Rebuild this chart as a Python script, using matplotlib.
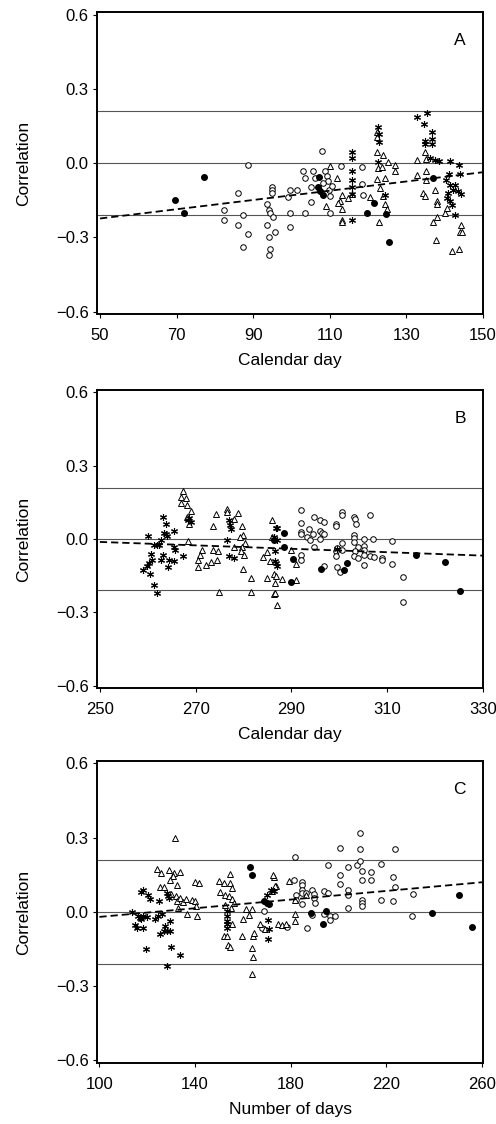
import matplotlib.pyplot as plt

plt.rcParams["font.family"] = ["Liberation Sans", "DejaVu Sans"]

# ---- Panel A: calendar day (spring) ----
a_open_x = [88.7, 86.0, 82.3, 82.3, 87.3, 86.0, 88.7, 87.3, 93.7, 94.2, 94.4, 95.1, 93.7, 95.6, 94.2,
            94.4, 94.2, 95.0, 95.0, 95.0, 99.6, 107.9, 102.9, 103.5, 99.6, 101.3, 99.2, 99.6, 103.5,
            105.2, 105.7, 106.1, 105.2, 108.7, 109.2, 109.6, 109.9, 110.0, 112.8, 118.3, 118.3, 118.6,
            110.0, 110.5, 108.3]
a_open_y = [-0.008, -0.122, -0.189, -0.229, -0.211, -0.249, -0.285, -0.338, -0.166, -0.189, -0.200,
            -0.220, -0.249, -0.279, -0.300, -0.347, -0.372, -0.097, -0.107, -0.122, -0.257, 0.049,
            -0.032, -0.062, -0.110, -0.107, -0.136, -0.203, -0.200, -0.158, -0.034, -0.061, -0.098,
            -0.034, -0.054, -0.074, -0.107, -0.134, -0.012, -0.017, -0.083, -0.131, -0.200, -0.094, -0.081]
a_fill_x = [69.6, 71.8, 77.1, 107.3, 107.0, 107.4, 108.1, 121.6, 119.8, 124.7, 125.4, 137.0]
a_fill_y = [-0.148, -0.203, -0.057, -0.057, -0.097, -0.114, -0.131, -0.163, -0.203, -0.205, -0.317, -0.061]
a_tri_x = [110.0, 111.8, 109.0, 112.7, 113.1, 113.3, 112.2, 113.1, 113.3, 114.7, 115.7, 120.5, 122.2,
           122.4, 122.4, 122.7, 123.9, 124.4, 125.3, 127.0, 127.0, 123.1, 123.9, 124.4, 124.8, 122.9,
           122.2, 123.5, 132.7, 134.9, 135.1, 135.1, 135.1, 132.7, 134.4, 134.9, 137.5, 137.9, 137.9,
           137.0, 137.9, 137.6, 140.1, 140.5, 144.2, 144.0, 144.4, 141.8, 143.8]
a_tri_y = [-0.012, -0.061, -0.174, -0.154, -0.131, -0.184, -0.160, -0.229, -0.237, -0.140, -0.127,
           -0.136, 0.124, 0.105, 0.045, -0.021, 0.032, -0.061, 0.005, -0.008, -0.034, -0.100, -0.134,
           -0.167, -0.184, -0.240, -0.065, -0.015, 0.012, 0.045, 0.015, -0.034, -0.068, -0.048, -0.123,
           -0.134, -0.107, -0.154, -0.167, -0.240, -0.220, -0.310, -0.200, -0.180, -0.250, -0.277,
           -0.277, -0.355, -0.346]
a_star_x = [115.7, 115.7, 115.7, 115.7, 115.7, 115.7, 115.7, 122.7, 122.8, 122.8, 122.7, 124.4, 132.7,
            135.5, 134.6, 136.7, 136.6, 134.9, 134.9, 136.6, 136.2, 137.5, 138.4, 141.4, 143.8, 144.0,
            141.2, 140.3, 141.4, 142.7, 142.1, 140.9, 143.5, 144.2, 140.5, 141.4, 141.8, 142.7]
a_star_y = [0.043, 0.019, -0.034, -0.068, -0.098, -0.127, -0.229, 0.144, 0.118, 0.085, 0.005, -0.131,
            0.184, 0.204, 0.158, 0.124, 0.098, 0.091, 0.075, 0.078, 0.019, 0.012, 0.009, 0.008, -0.008,
            -0.045, -0.045, -0.068, -0.087, -0.087, -0.107, -0.120, -0.114, -0.127, -0.140, -0.154,
            -0.171, -0.211]
a_fit_x = [50, 150]
a_fit_y = [-0.224, -0.037]

# ---- Panel B: calendar day (autumn) ----
b_open_x = [292.0, 292.0, 292.0, 292.0, 293.3, 293.6, 293.8, 294.5, 294.8, 294.7, 295.9, 296.7, 296.0,
            296.4, 296.7, 295.9, 291.9, 291.9, 296.7, 299.2, 299.2, 300.5, 300.5, 300.5, 299.5, 299.4,
            299.4, 299.5, 300.2, 303.1, 303.3, 303.5, 303.1, 303.1, 303.0, 303.8, 303.3, 303.0, 303.8,
            305.1, 305.2, 305.1, 305.2, 305.1, 306.5, 307.1, 306.3, 307.3, 308.9, 308.9, 311.0, 311.0,
            313.2, 313.2, 300.5]
b_open_y = [0.117, 0.066, 0.029, 0.020, 0.009, 0.039, -0.004, 0.020, -0.031, 0.090, 0.079, 0.070, 0.033,
            0.025, 0.020, -0.001, -0.064, -0.087, -0.112, 0.063, 0.055, 0.110, 0.097, -0.015, -0.038,
            -0.051, -0.071, -0.114, -0.136, 0.090, 0.083, 0.063, 0.016, 0.005, -0.011, -0.031, -0.051,
            -0.071, -0.078, 0.000, -0.028, -0.047, -0.064, -0.107, 0.097, 0.000, -0.071, -0.074, -0.078,
            -0.087, -0.008, -0.102, -0.155, -0.256, -0.044]
b_fill_x = [288.5, 288.5, 290.3, 289.9, 296.2, 301.7, 301.0, 316.0, 322.0, 325.3, 286.3]
b_fill_y = [0.025, -0.031, -0.082, -0.176, -0.121, -0.098, -0.125, -0.064, -0.095, -0.212, -0.004]
b_tri_x = [267.4, 267.0, 267.9, 267.0, 268.1, 269.0, 268.1, 268.6, 268.4, 271.4, 271.0, 270.5, 270.5,
           272.1, 273.1, 273.7, 274.6, 274.5, 273.7, 274.3, 274.8, 276.6, 276.6, 277.9, 278.8, 279.7,
           279.9, 279.2, 280.4, 279.7, 279.4, 280.1, 279.9, 278.0, 281.6, 281.5, 284.1, 284.9, 284.8,
           285.5, 286.0, 286.3, 286.5, 286.3, 287.0, 286.0, 289.9, 291.0, 291.0, 288.0, 286.5, 286.7]
b_tri_y = [0.197, 0.173, 0.168, 0.146, 0.141, 0.113, 0.090, 0.063, -0.007, -0.044, -0.064, -0.087,
           -0.114, -0.105, -0.095, -0.047, -0.051, -0.087, 0.052, 0.101, -0.216, 0.124, 0.110, 0.083,
           0.106, 0.052, 0.016, 0.007, -0.017, -0.031, -0.051, -0.064, -0.122, -0.031, -0.158, -0.216,
           -0.074, -0.055, -0.158, -0.091, 0.079, -0.145, -0.179, -0.226, -0.270, 0.009, -0.044,
           -0.101, -0.168, -0.165, -0.219, -0.152]
b_star_x = [260.1, 259.1, 259.9, 260.3, 260.6, 260.8, 260.5, 261.2, 261.9, 261.3, 262.0, 262.3, 263.1,
            263.8, 263.4, 263.9, 264.1, 262.7, 265.5, 263.1, 262.8, 264.2, 264.4, 265.5, 265.5, 265.6,
            267.4, 268.3, 268.6, 269.0, 276.9, 277.1, 277.3, 276.6, 276.9, 277.9, 286.3, 286.9, 287.0,
            286.7, 287.0, 286.7, 286.5, 286.6, 299.5]
b_star_y = [0.012, -0.128, -0.112, -0.098, -0.060, -0.085, -0.145, -0.190, -0.223, -0.024, -0.024,
            -0.024, 0.090, 0.063, 0.023, 0.020, 0.012, -0.004, 0.033, -0.064, -0.085, -0.114, -0.085,
            -0.088, -0.031, -0.044, -0.071, 0.077, 0.088, 0.070, 0.077, 0.056, 0.043, -0.004, -0.071,
            -0.078, 0.009, 0.047, -0.004, -0.098, -0.112, 0.047, -0.050, -0.090, -0.040]
b_fit_x = [250, 330]
b_fit_y = [-0.012, -0.068]

# ---- Panel C: number of days ----
c_open_x = [208.8, 200.8, 208.8, 223.5, 181.7, 195.5, 203.9, 207.8, 208.8, 217.9, 209.7, 213.4, 213.4,
            209.7, 200.8, 200.8, 222.8, 223.5, 184.9, 184.9, 184.9, 184.9, 186.3, 189.1, 189.8, 182.1,
            182.1, 184.9, 189.8, 190.1, 194.0, 195.5, 203.9, 203.9, 209.7, 209.7, 209.7, 217.9, 222.8,
            231.2, 203.9, 189.1, 194.0, 196.5, 198.5, 196.5, 186.7, 178.3, 230.8, 181.4, 168.8, 168.1]
c_open_y = [0.319, 0.259, 0.255, 0.255, 0.222, 0.189, 0.182, 0.189, 0.205, 0.192, 0.166, 0.160, 0.130,
            0.130, 0.150, 0.112, 0.143, 0.099, 0.123, 0.107, 0.090, 0.076, 0.076, 0.090, 0.072, 0.070,
            0.050, 0.033, 0.057, 0.037, 0.083, 0.076, 0.090, 0.068, 0.050, 0.036, 0.023, 0.050, 0.043,
            0.072, 0.017, -0.012, -0.007, -0.017, -0.017, -0.033, -0.066, -0.060, -0.017, 0.130,
            0.005, -0.066]
c_fill_x = [162.9, 163.7, 168.8, 169.9, 170.9, 188.4, 194.7, 193.6, 238.9, 250.5, 255.8]
c_fill_y = [0.182, 0.149, 0.043, 0.036, 0.032, -0.003, 0.004, -0.047, -0.003, 0.070, -0.060]
c_tri_x = [131.8, 124.1, 125.9, 129.2, 131.2, 133.9, 130.6, 125.3, 127.0, 129.5, 132.3, 130.1, 131.9,
           132.5, 133.9, 135.0, 136.2, 133.0, 136.5, 138.6, 140.0, 140.4, 140.0, 141.8, 140.7, 150.2,
           151.9, 154.4, 154.7, 155.4, 150.5, 152.6, 154.0, 155.4, 156.1, 152.6, 155.0, 151.9, 153.3,
           153.6, 154.7, 155.4, 160.0, 161.1, 163.9, 162.4, 159.6, 164.2, 164.8, 163.9, 164.2, 163.9,
           167.1, 169.1, 174.7, 173.0, 173.7, 172.7, 173.3, 172.3, 181.7, 181.7, 176.5, 177.9, 181.7,
           186.3, 179.3]
c_tri_y = [0.299, 0.175, 0.156, 0.169, 0.156, 0.163, 0.147, 0.102, 0.102, 0.130, 0.107, 0.072, 0.063,
           0.043, 0.056, 0.040, 0.053, 0.016, -0.007, 0.049, 0.043, 0.023, 0.120, 0.115, -0.017, 0.125,
           0.116, 0.152, 0.116, 0.096, 0.082, 0.069, 0.063, 0.053, 0.036, 0.030, 0.014, -0.097, -0.097,
           -0.135, -0.143, -0.050, -0.030, 0.010, 0.010, -0.013, -0.097, -0.097, -0.083, -0.145, -0.180,
           -0.251, -0.050, -0.070, -0.050, 0.142, 0.103, 0.150, 0.103, 0.083, -0.009, -0.036, -0.052,
           -0.050, 0.050, 0.067, 0.125]
c_star_x = [113.8, 116.1, 116.8, 117.5, 118.2, 119.7, 114.7, 115.7, 118.2, 119.4, 117.5, 118.2, 120.3,
            121.1, 125.0, 123.2, 124.5, 126.0, 125.5, 127.0, 128.1, 129.5, 127.4, 129.7, 130.1, 133.9,
            128.1, 128.3, 128.8, 129.2, 153.3, 153.3, 153.3, 153.3, 153.3, 170.2, 171.6, 172.9, 170.4,
            170.9, 170.4]
c_star_y = [0.000, -0.017, -0.023, -0.030, -0.017, -0.021, -0.053, -0.066, -0.066, -0.150, 0.082, 0.089,
            0.069, 0.053, 0.043, -0.029, -0.017, -0.007, -0.090, -0.076, -0.076, -0.076, -0.056, -0.036,
            -0.140, -0.175, -0.219, 0.077, 0.064, 0.055, 0.003, -0.017, -0.037, -0.050, -0.063, 0.069,
            0.089, 0.083, -0.034, -0.069, -0.109]
c_fit_x = [100, 260]
c_fit_y = [-0.020, 0.120]

ref_levels = [-0.21, 0.0, 0.21]
y_ticks = [-0.6, -0.3, 0.0, 0.3, 0.6]
y_labels = ["\u22120.6", "\u22120.3", "0.0", "0.3", "0.6"]

panels = [
    dict(letter="A", xlim=(49.2, 149.7), xticks=[50, 70, 90, 110, 130, 150], xlabel="Calendar day",
         open=(a_open_x, a_open_y), fill=(a_fill_x, a_fill_y), tri=(a_tri_x, a_tri_y),
         star=(a_star_x, a_star_y), fit=(a_fit_x, a_fit_y), pos=[0.1956, 0.7206, 0.7782, 0.2687]),
    dict(letter="B", xlim=(249.4, 330.0), xticks=[250, 270, 290, 310, 330], xlabel="Calendar day",
         open=(b_open_x, b_open_y), fill=(b_fill_x, b_fill_y), tri=(b_tri_x, b_tri_y),
         star=(b_star_x, b_star_y), fit=(b_fit_x, b_fit_y), pos=[0.1956, 0.3879, 0.7782, 0.2651]),
    dict(letter="C", xlim=(99.0, 260.4), xticks=[100, 140, 180, 220, 260], xlabel="Number of days",
         open=(c_open_x, c_open_y), fill=(c_fill_x, c_fill_y), tri=(c_tri_x, c_tri_y),
         star=(c_star_x, c_star_y), fit=(c_fit_x, c_fit_y), pos=[0.1956, 0.0543, 0.7782, 0.2687]),
]

fig = plt.figure(figsize=(4.96, 11.24), dpi=100)

for p in panels:
    ax = fig.add_axes(p["pos"])
    for lvl in ref_levels:
        ax.axhline(lvl, color="#555555", lw=0.8, zorder=1)
    ax.plot(*p["fit"], color="black", lw=1.3, ls=(0, (4, 2.2)), zorder=4)
    ax.plot(*p["open"], ls="none", marker="o", ms=4.0, mfc="white", mec="black", mew=0.7, zorder=3)
    ax.plot(*p["tri"], ls="none", marker="^", ms=4.4, mfc="white", mec="black", mew=0.7, zorder=3)
    ax.plot(*p["star"], ls="none", marker=(6, 2, 0), ms=5.0, color="black", mew=0.8, zorder=3)
    ax.plot(*p["fill"], ls="none", marker="o", ms=4.0, color="black", zorder=3)

    ax.set_xlim(p["xlim"])
    ax.set_ylim(-0.61, 0.61)
    ax.set_xticks(p["xticks"])
    ax.set_yticks(y_ticks)
    ax.set_yticklabels(y_labels)
    ax.tick_params(direction="out", length=3, width=0.8, labelsize=12)
    ax.tick_params(axis="x", pad=7)
    ax.tick_params(axis="y", pad=3)
    for s in ax.spines.values():
        s.set_linewidth(1.4)
    ax.set_xlabel(p["xlabel"], fontsize=12.5, labelpad=7)
    ax.set_ylabel("Correlation", fontsize=12.5, labelpad=18)
    ax.text(0.955, 0.905, p["letter"], transform=ax.transAxes, ha="right", va="center", fontsize=12.5)

fig.savefig("out.png", dpi=100)
